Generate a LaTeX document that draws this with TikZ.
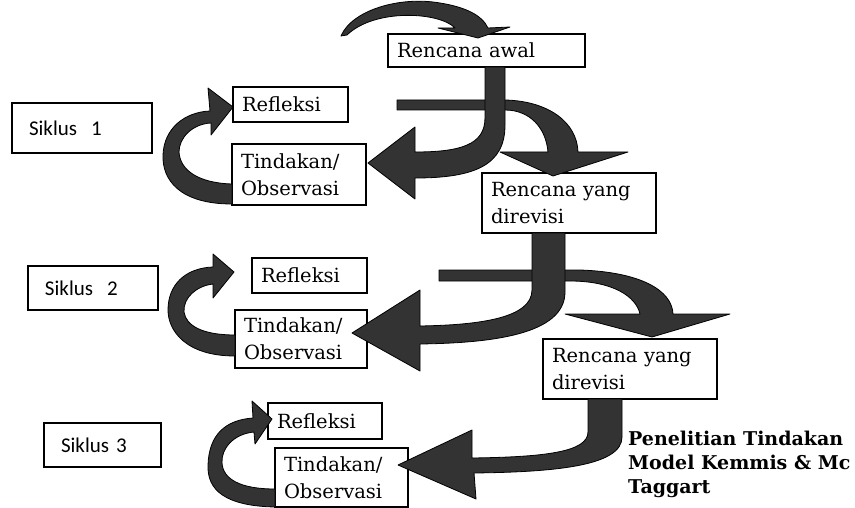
\documentclass[tikz,border=0pt]{standalone}
\usepackage{fontspec}
\setmainfont{DejaVu Serif}
\newfontfamily\sikfont{Carlito}
\begin{document}
\begin{tikzpicture}[x=1pt,y=-1pt,
  box/.style={draw=black, line width=1.1pt, fill=white, inner xsep=9pt, inner ysep=0pt, align=left, font=\fontsize{19.5}{27}\selectfont},
  sbox/.style={draw=black, line width=1.1pt, fill=white, inner xsep=17pt, inner ysep=0pt, align=left, font=\sikfont\fontsize{21}{25}\selectfont},
  rib/.style={fill=black!80, draw=black, line width=0.8pt, line join=round}]
\useasboundingbox (0,0) rectangle (855,508);
\fill[white] (0,0) rectangle (855,508);
% boxes
\node[box, text width=179pt, minimum height=33pt] (ra) at (486.5,50.5) {Rencana awal};
\node[sbox, text width=106pt, minimum height=50pt] (s1) at (82,128) {Siklus~~1};
\node[box, text width=97pt, minimum height=35pt] (r1) at (290.5,104.5) {Refleksi};
\node[box, text width=116pt, minimum height=61pt] (t1) at (299,174.5) {Tindakan/\\Observasi};
\node[box, text width=156pt, minimum height=60pt] (rr1) at (569,203) {Rencana yang\\direvisi};
\node[sbox, text width=96pt, minimum height=44pt] (s2) at (93,288) {Siklus~~2};
\node[box, text width=97pt, minimum height=35pt] (r2) at (309.5,275.5) {Refleksi};
\node[box, text width=114pt, minimum height=58pt] (t2) at (301,339) {Tindakan/\\Observasi};
\node[box, text width=156pt, minimum height=60pt] (rr2) at (630,369) {Rencana yang\\direvisi};
\node[sbox, text width=83pt, minimum height=44pt] (s3) at (102.5,445) {Siklus 3};
\node[box, text width=96pt, minimum height=36pt] (r3) at (325,421) {Refleksi};
\node[box, text width=115pt, minimum height=59pt] (t3) at (341.5,477.5) {Tindakan/\\Observasi};
\node[font=\bfseries\fontsize{19}{24}\selectfont, align=left, anchor=west, inner sep=0pt] (title) at (628,464) {Penelitian Tindakan\\Model Kemmis \& Mc\\Taggart};
% top arc arrow
\draw[rib] (341,36) .. controls (352,10) and (400,-4) .. (440,3) .. controls (465,7) and (482,15) .. (488,28) -- (510,27) -- (478,38) -- (438,28) -- (455,28) .. controls (440,12) and (375,8) .. (347,35) -- cycle;
% cycle 1
\draw[rib] (420,100) -- (505,100) .. controls (548,101) and (577,122) .. (578,152) -- (628,152) -- (553,176) -- (500,152) -- (548,152) .. controls (546,128) and (530,110) .. (505,110) -- (397,110) -- (397,100) -- cycle;
\draw[rib] (485,67) -- (485,118) .. controls (485,145) and (460,152) .. (415,152) -- (415,127) -- (368,163) -- (415,199) -- (415,178) .. controls (475,178) and (505,165) .. (505,125) -- (505,67) -- cycle;
\draw[rib] (232,204) .. controls (180,204) and (162,180) .. (163,155) .. controls (164,128) and (185,112) .. (210,111) -- (208,88) -- (233,107) -- (211,135) -- (211,123) .. controls (192,124) and (179,138) .. (179,152) .. controls (180,170) and (198,183) .. (232,184) -- cycle;
% cycle 2
\draw[rib] (439,270) -- (580,270) .. controls (640,272) and (672,290) .. (673,314) -- (730,314) -- (652,337) -- (565,314) -- (640,314) .. controls (636,296) and (612,281) .. (570,281) -- (439,281) -- cycle;
\draw[rib] (532,233) -- (532,290) .. controls (532,318) and (480,325) .. (420,326) -- (420,290) -- (352,333) -- (420,371) -- (420,344) .. controls (490,343) and (565,335) .. (565,292) -- (565,233) -- cycle;
\draw[rib] (235,356) .. controls (185,356) and (168,330) .. (168,310) .. controls (168,285) and (185,268) .. (213,267) -- (213,254) -- (234,272) -- (213,298) -- (213,284) .. controls (196,286) and (183,298) .. (184,312) .. controls (186,326) and (203,335) .. (235,335) -- cycle;
% cycle 3
\draw[rib] (588,399) -- (588,432) .. controls (588,452) and (545,457) .. (472,458) -- (472,430) -- (398,465) -- (476,499) -- (474,473) .. controls (560,472) and (622,465) .. (622,437) -- (622,399) -- cycle;
\draw[rib] (275,507) .. controls (225,506) and (207,490) .. (208,465) .. controls (209,435) and (225,420) .. (253,418) -- (252,401) -- (272,419) -- (255,444) -- (254,432) .. controls (233,434) and (221,449) .. (222,463) .. controls (223,479) and (240,489) .. (275,489) -- cycle;
\end{tikzpicture}
\end{document}
